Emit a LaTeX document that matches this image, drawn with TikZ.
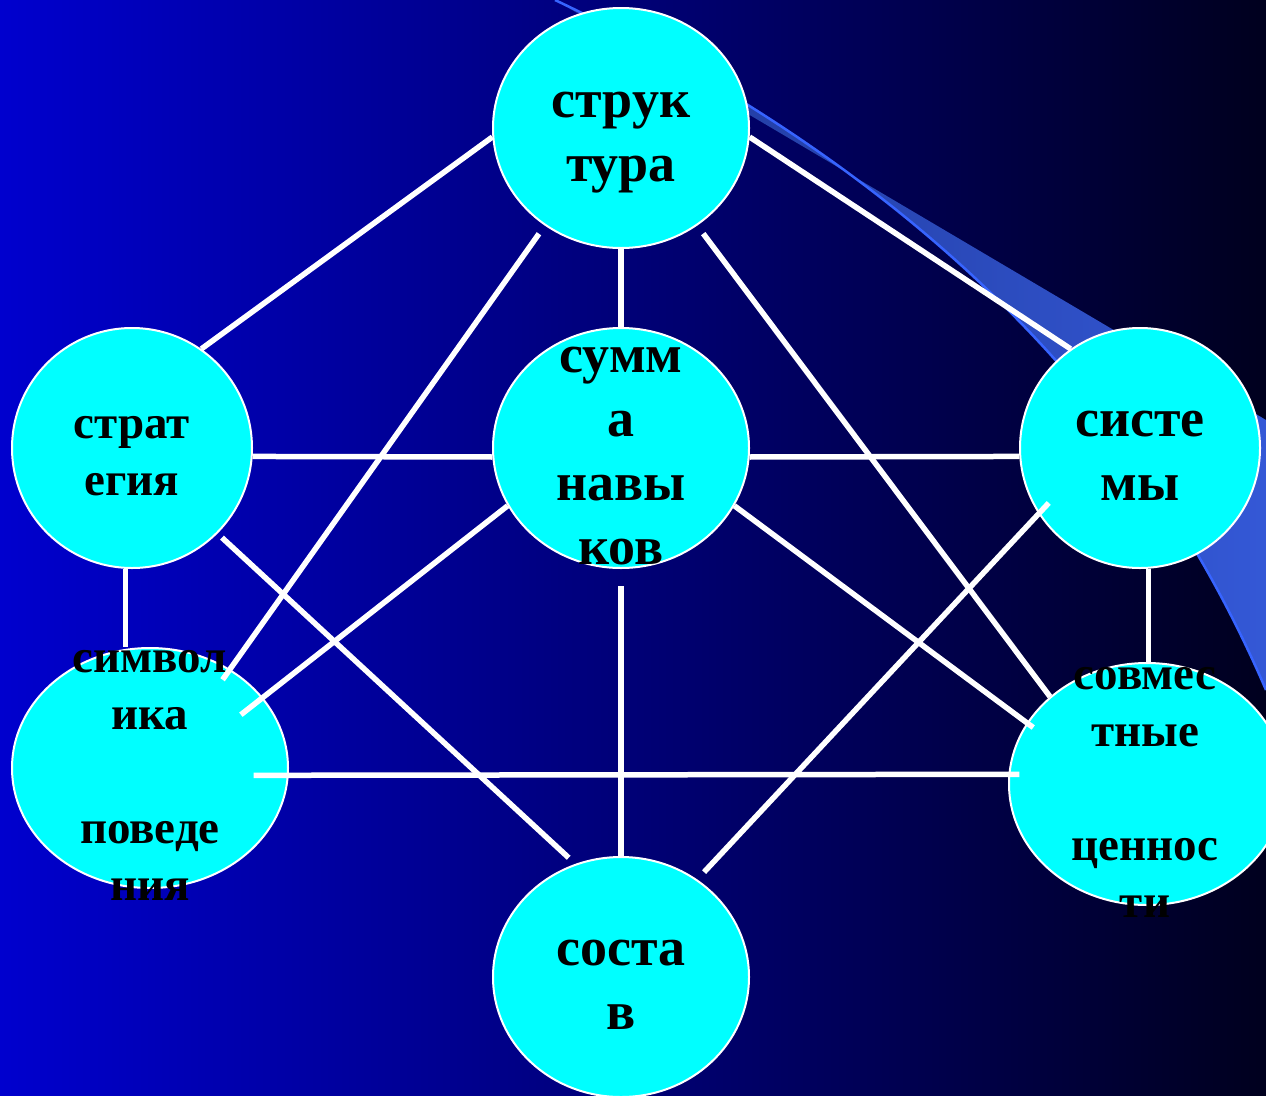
\documentclass[tikz,border=0pt]{standalone}
\usepackage{fontspec}
\setmainfont{Liberation Serif}
\usetikzlibrary{shapes.geometric}
\definecolor{bgleft}{RGB}{0,0,206}
\definecolor{bgright}{RGB}{0,0,30}
\definecolor{bandA}{RGB}{30,55,150}
\definecolor{bandB}{RGB}{52,88,214}
\definecolor{bandedge}{RGB}{55,100,255}
\definecolor{bubfill}{RGB}{0,255,255}

\begin{document}
\begin{tikzpicture}[x=1pt,y=-1pt,bub/.style 2 args={ellipse, draw=white, line width=2pt, fill=bubfill, inner sep=0pt, minimum width=#1pt, minimum height=#2pt},
  bigtxt/.style={align=center, text=black, font=\bfseries\fontsize{54}{64}\selectfont},
  smtxt/.style={align=center, text=black, font=\bfseries\fontsize{47}{57}\selectfont},
  lnk/.style={draw=white, line width=5.5pt}]
    \useasboundingbox (0,0) rectangle (1266,1095);
    \shade[left color=bgleft, right color=bgright] (0,0) rectangle (1266,1095);
    % swoosh in the corner
    \shade[left color=bandA, right color=bandB] (555,0) -- (1266,420) -- (1266,690) .. controls (1120,350) and (850,140) .. cycle;
    \draw[bandedge, line width=2.5pt] (555,0) .. controls (850,140) and (1120,350) .. (1266,690);
    \node [bub={256}{240}] (T) at (621,128) {};
    \node [bub={240}{240}] (G) at (132,448) {};
    \node [bub={256}{240}] (N) at (621,448) {};
    \node [bub={240}{240}] (Y) at (1140,448) {};
    \node [bub={276}{240}] (B) at (150,768) {};
    \node [bub={276}{242}] (V) at (1147,784) {};
    \node [bub={256}{240}] (C) at (621,977) {};
    \path[lnk] (T.184) -- (G.55);
    \path[lnk] (T.356) -- (Y.125);
    \path[lnk] (T.south) -- (N.north);
    \path[lnk, shorten <=10pt, shorten >=-13pt] (T.232) -- (B.51);
    \path[lnk, shorten <=10pt] (T.308) -- (V.138);
    \path[lnk] (G.-4) -- (N.184);
    \path[lnk] (N.356) -- (Y.184);
    \path[lnk] (G.267) -- (G.267 |- B.north);
    \path[lnk] (Y.274) -- (Y.274 |- V.north);
    \path[lnk, shorten <=6pt, shorten >=9pt] (G.315) -- (C.112);
    \path[lnk, shorten >=-28pt] (N.207) -- (B.32);
    \path[lnk, shorten >=-8pt] (N.333) -- (V.153);
    \path[lnk, shorten <=17pt] (N.south) -- (C.north);
    \path[lnk, shorten <=-15pt, shorten >=10pt] (Y.213) -- (C.52);
    \path[lnk, shorten <=-35pt, shorten >=-11pt] (B.-3.5) -- (V.176.5);
    % texts
    \node [bigtxt] (Tt) at (621,143) {струк\\тура};
    \node [smtxt] (Gt) at (132,456) {страт\\егия};
    \node [bigtxt] (Nt) at (621,456) {сумм\\а\\навы\\ков};
    \node [bigtxt] (Yt) at (1140,456) {систе\\мы};
    \node [smtxt] (Bt) at (150,775) {символ\\ика\\\mbox{}\\поведе\\ния};
    \node [smtxt] (Vt) at (1145,792) {совмес\\тные\\\mbox{}\\ценнос\\ти};
    \node [bigtxt] (Ct) at (621,985) {соста\\в};
\end{tikzpicture}
\end{document}
